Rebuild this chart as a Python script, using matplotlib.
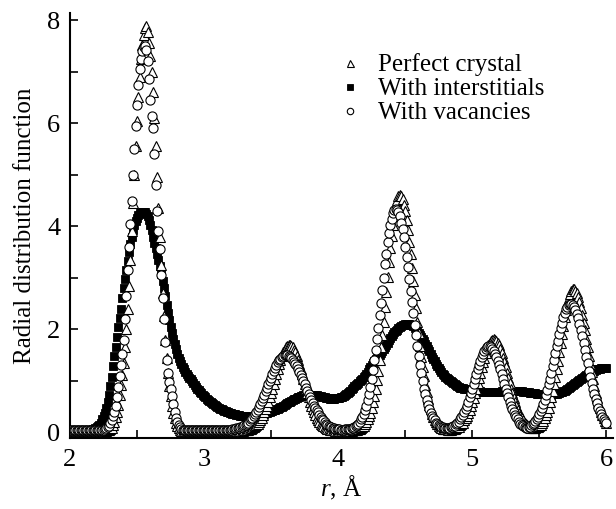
import numpy as np
import matplotlib
matplotlib.use("Agg")
import matplotlib.pyplot as plt
from matplotlib.ticker import MultipleLocator

# g(r) sampled every 0.01 Å from r = 2.00 Å; each row holds 10 samples
perfect = [
    .03, .03, .02, .03, .03, .02, .03, .03, .03, .02,
    .03, .03, .02, .03, .03, .03, .02, .03, .03, .03,
    .02, .03, .03, .03, .03, .03, .03, .03, .04, .04,
    .06, .09, .14, .21, .30, .40, .53, .72, .92, 1.12,
    1.35, 1.65, 2.00, 2.40, 2.85, 3.35, 3.90, 4.45, 5.00, 5.55,
    6.05, 6.50, 6.90, 7.25, 7.52, 7.72, 7.84, 7.88, 7.78, 7.55,
    7.30, 7.00, 6.60, 6.10, 5.55, 4.95, 4.35, 3.80, 3.25, 2.70,
    2.25, 1.80, 1.45, 1.15, .90, .70, .52, .38, .27, .18,
    .12, .08, .05, .03, .03, .03, .02, .03, .03, .03,
    .03, .02, .03, .03, .03, .03, .03, .02, .03, .03,
    .03, .03, .03, .02, .03, .03, .03, .03, .02, .03,
    .03, .03, .03, .03, .02, .03, .03, .03, .03, .03,
    .02, .03, .03, .03, .03, .03, .03, .03, .03, .03,
    .04, .04, .05, .05, .06, .07, .08, .10, .12, .14,
    .17, .20, .23, .28, .33, .39, .45, .52, .59, .68,
    .76, .85, .94, 1.04, 1.14, 1.23, 1.32, 1.40, 1.48, 1.55,
    1.60, 1.65, 1.68, 1.70, 1.70, 1.68, 1.65, 1.60, 1.55, 1.48,
    1.40, 1.32, 1.23, 1.14, 1.04, .94, .85, .76, .68, .59,
    .52, .45, .39, .33, .28, .23, .20, .17, .14, .12,
    .10, .08, .07, .06, .05, .05, .04, .04, .03, .03,
    .03, .03, .02, .03, .03, .03, .03, .03, .02, .03,
    .03, .04, .04, .04, .05, .06, .07, .08, .10, .13,
    .16, .20, .25, .31, .38, .47, .58, .70, .84, 1.02,
    1.20, 1.41, 1.65, 1.89, 2.15, 2.44, 2.72, 3.01, 3.30, 3.57,
    3.81, 4.03, 4.24, 4.39, 4.51, 4.59, 4.61, 4.59, 4.53, 4.42,
    4.29, 4.12, 3.92, 3.69, 3.46, 3.19, 2.94, 2.67, 2.42, 2.15,
    1.92, 1.68, 1.47, 1.27, 1.09, .92, .78, .65, .53, .45,
    .36, .30, .24, .20, .16, .13, .11, .09, .07, .06,
    .06, .06, .05, .05, .05, .06, .06, .07, .08, .10,
    .11, .14, .16, .19, .23, .27, .32, .38, .44, .51,
    .59, .67, .76, .85, .96, 1.06, 1.16, 1.26, 1.36, 1.45,
    1.54, 1.62, 1.69, 1.74, 1.78, 1.80, 1.81, 1.80, 1.78, 1.74,
    1.69, 1.62, 1.54, 1.45, 1.36, 1.26, 1.16, 1.06, .96, .85,
    .76, .67, .59, .51, .44, .38, .32, .27, .23, .19,
    .16, .14, .11, .10, .09, .09, .09, .09, .10, .11,
    .13, .15, .18, .22, .27, .33, .40, .47, .58, .68,
    .80, .94, 1.08, 1.23, 1.39, 1.56, 1.73, 1.90, 2.07, 2.23,
    2.37, 2.51, 2.61, 2.69, 2.75, 2.78, 2.78, 2.75, 2.70, 2.63,
    2.53, 2.41, 2.27, 2.13, 1.98, 1.82, 1.65, 1.48, 1.32, 1.18,
    1.03, .90, .77, .66, .56, .47, .40, .33, .27, .22,
    .18,
]

interstitials = [
    .05, .05, .05, .05, .05, .05, .05, .05, .05, .05,
    .05, .05, .05, .05, .05, .05, .05, .06, .07, .08,
    .10, .12, .15, .19, .25, .31, .38, .47, .58, .72,
    .90, 1.08, 1.28, 1.48, 1.66, 1.85, 2.05, 2.22, 2.40, 2.60,
    2.80, 2.98, 3.16, 3.33, 3.50, 3.66, 3.80, 3.92, 4.02, 4.10,
    4.17, 4.22, 4.25, 4.27, 4.28, 4.28, 4.27, 4.24, 4.19, 4.12,
    4.03, 3.92, 3.80, 3.68, 3.57, 3.46, 3.35, 3.22, 3.08, 2.94,
    2.80, 2.65, 2.48, 2.32, 2.18, 2.05, 1.93, 1.82, 1.72, 1.62,
    1.53, 1.45, 1.38, 1.32, 1.27, 1.22, 1.18, 1.14, 1.10, 1.06,
    1.03, 1.00, .96, .92, .88, .85, .82, .79, .76, .73,
    .70, .68, .65, .63, .61, .59, .57, .55, .53, .51,
    .49, .48, .46, .45, .43, .42, .41, .40, .39, .38,
    .37, .36, .35, .35, .34, .33, .33, .32, .32, .31,
    .31, .31, .31, .31, .31, .31, .32, .32, .32, .33,
    .33, .34, .34, .35, .35, .36, .37, .38, .39, .40,
    .41, .42, .43, .44, .45, .46, .47, .49, .50, .52,
    .53, .55, .56, .58, .59, .61, .62, .64, .65, .66,
    .68, .69, .70, .71, .72, .72, .73, .73, .73, .73,
    .73, .73, .72, .72, .72, .71, .71, .70, .69, .68,
    .68, .67, .66, .66, .65, .65, .65, .65, .66, .66,
    .66, .67, .68, .69, .71, .73, .75, .77, .79, .81,
    .84, .86, .89, .91, .94, .96, .99, 1.01, 1.04, 1.07,
    1.10, 1.14, 1.18, 1.22, 1.26, 1.30, 1.35, 1.38, 1.42, 1.45,
    1.48, 1.51, 1.54, 1.57, 1.61, 1.65, 1.70, 1.74, 1.79, 1.83,
    1.87, 1.91, 1.94, 1.97, 1.99, 2.02, 2.04, 2.06, 2.08, 2.09,
    2.10, 2.10, 2.10, 2.10, 2.09, 2.08, 2.06, 2.03, 2.00, 1.97,
    1.93, 1.89, 1.85, 1.81, 1.77, 1.72, 1.67, 1.62, 1.57, 1.52,
    1.47, 1.42, 1.38, 1.33, 1.29, 1.25, 1.21, 1.17, 1.14, 1.11,
    1.08, 1.05, 1.03, 1.01, .99, .97, .96, .94, .92, .90,
    .88, .87, .86, .86, .85, .85, .84, .84, .83, .83,
    .82, .82, .81, .81, .80, .80, .80, .79, .79, .79,
    .79, .79, .79, .79, .79, .79, .79, .79, .79, .79,
    .79, .79, .80, .80, .80, .80, .80, .80, .81, .81,
    .81, .81, .81, .81, .81, .80, .80, .80, .79, .79,
    .78, .78, .78, .77, .77, .76, .76, .76, .75, .75,
    .75, .74, .74, .74, .73, .73, .73, .73, .73, .73,
    .74, .74, .75, .75, .76, .77, .78, .79, .80, .81,
    .82, .84, .86, .88, .90, .92, .94, .96, .98, 1.00,
    1.02, 1.04, 1.06, 1.08, 1.10, 1.12, 1.14, 1.15, 1.17, 1.18,
    1.19, 1.20, 1.21, 1.22, 1.23, 1.23, 1.24, 1.24, 1.25, 1.25,
    1.25,
]

vacancies = [
    .05, .05, .04, .05, .05, .05, .04, .05, .05, .05,
    .05, .04, .05, .05, .05, .05, .04, .05, .05, .05,
    .05, .05, .05, .05, .05, .05, .06, .08, .10, .13,
    .18, .24, .32, .40, .52, .68, .88, 1.10, 1.30, 1.52,
    1.80, 2.20, 2.65, 3.15, 3.60, 4.05, 4.50, 5.00, 5.50, 5.95,
    6.35, 6.75, 7.05, 7.25, 7.40, 7.48, 7.50, 7.42, 7.20, 6.85,
    6.45, 6.15, 5.90, 5.40, 4.80, 4.30, 3.90, 3.55, 3.05, 2.60,
    2.20, 1.75, 1.40, 1.15, .98, .84, .70, .55, .40, .28,
    .20, .14, .10, .07, .05, .05, .05, .04, .05, .05,
    .05, .05, .04, .05, .05, .05, .05, .05, .04, .05,
    .05, .05, .05, .04, .05, .05, .05, .05, .05, .04,
    .05, .05, .05, .05, .05, .04, .05, .05, .05, .05,
    .05, .06, .07, .07, .08, .08, .09, .10, .11, .12,
    .14, .15, .17, .19, .22, .25, .28, .31, .35, .40,
    .44, .49, .55, .61, .67, .73, .80, .86, .93, 1.00,
    1.06, 1.13, 1.19, 1.25, 1.30, 1.36, 1.40, 1.43, 1.46, 1.48,
    1.50, 1.50, 1.50, 1.49, 1.47, 1.44, 1.41, 1.37, 1.33, 1.28,
    1.23, 1.18, 1.11, 1.05, .99, .93, .87, .81, .75, .68,
    .63, .57, .52, .47, .43, .39, .34, .30, .26, .23,
    .20, .17, .15, .13, .11, .10, .09, .08, .07, .06,
    .06, .06, .05, .05, .05, .06, .06, .06, .07, .07,
    .08, .09, .11, .12, .14, .17, .21, .25, .30, .36,
    .44, .52, .63, .75, .88, 1.04, 1.21, 1.40, 1.59, 1.81,
    2.03, 2.28, 2.52, 2.77, 3.00, 3.26, 3.47, 3.69, 3.87, 4.03,
    4.15, 4.25, 4.31, 4.33, 4.31, 4.27, 4.19, 4.07, 3.94, 3.79,
    3.60, 3.40, 3.21, 2.98, 2.75, 2.53, 2.31, 2.08, 1.89, 1.68,
    1.48, 1.30, 1.15, .99, .85, .74, .63, .53, .46, .38,
    .32, .27, .23, .19, .16, .14, .12, .10, .10, .09,
    .09, .09, .09, .09, .10, .11, .12, .13, .16, .18,
    .21, .25, .29, .34, .39, .45, .52, .59, .68, .76,
    .85, .93, 1.03, 1.13, 1.22, 1.31, 1.39, 1.46, 1.53, 1.58,
    1.62, 1.65, 1.67, 1.67, 1.65, 1.62, 1.58, 1.53, 1.46, 1.39,
    1.31, 1.22, 1.13, 1.03, .93, .85, .76, .68, .59, .52,
    .45, .39, .34, .29, .25, .21, .17, .14, .12, .10,
    .09, .09, .10, .11, .14, .16, .19, .22, .26, .30,
    .36, .41, .48, .55, .63, .72, .82, .93, 1.03, 1.16,
    1.28, 1.40, 1.54, 1.67, 1.78, 1.91, 2.03, 2.13, 2.24, 2.32,
    2.39, 2.44, 2.48, 2.50, 2.50, 2.48, 2.44, 2.38, 2.30, 2.21,
    2.11, 1.99, 1.87, 1.74, 1.60, 1.47, 1.34, 1.20, 1.08, .96,
    .85, .74, .65, .56, .48, .42, .35, .30, .25, .22,
    .18,
]

labels = ["Perfect crystal", "With interstitials", "With vacancies"]
x_ticks = [2, 3, 4, 5, 6]
y_ticks = [0, 2, 4, 6, 8]


def r_grid(values):
    return np.round(2.0 + 0.01 * np.arange(len(values)), 2)


plt.rcParams["font.family"] = ["Liberation Serif", "DejaVu Serif"]
plt.rcParams["mathtext.fontset"] = "custom"
plt.rcParams["mathtext.rm"] = "Liberation Serif"
plt.rcParams["mathtext.it"] = "Liberation Serif:italic"

fig = plt.figure(figsize=(6.16, 5.09), dpi=100)
ax = fig.add_axes([70 / 616, 71 / 509, 543 / 616, 425 / 509])

ax.plot(r_grid(interstitials), interstitials, linestyle="none", marker="s",
        markersize=6.4, markerfacecolor="black", markeredgecolor="black",
        markeredgewidth=0.6, zorder=2, label=labels[1])
ax.plot(r_grid(perfect), perfect, linestyle="none", marker="^",
        markersize=7.2, markerfacecolor="white", markeredgecolor="black",
        markeredgewidth=0.8, zorder=3, label=labels[0])
ax.plot(r_grid(vacancies), vacancies, linestyle="none", marker="o",
        markersize=6.6, markerfacecolor="white", markeredgecolor="black",
        markeredgewidth=0.8, zorder=4, label=labels[2])

ax.set_xlim(2.0, 6.05)
ax.set_ylim(-0.11, 8.14)
ax.set_xticks(x_ticks)
ax.set_yticks(y_ticks)
ax.xaxis.set_minor_locator(MultipleLocator(0.5))
ax.yaxis.set_minor_locator(MultipleLocator(1))

for side in ("top", "right"):
    ax.spines[side].set_visible(False)
for side in ("left", "bottom"):
    ax.spines[side].set_linewidth(1.5)

ax.tick_params(which="both", direction="in", length=6, width=1.2,
               top=False, right=False)
ax.tick_params(axis="x", which="both", labelsize=19, pad=8)
ax.tick_params(axis="y", which="both", labelsize=19, pad=7)

ax.set_xlabel(r"$r$, Å", fontsize=18, labelpad=2)
ax.set_ylabel("Radial distribution function", fontsize=18, labelpad=8)

handles, hlabels = ax.get_legend_handles_labels()
order = [hlabels.index(l) for l in labels]
ax.legend([handles[i] for i in order], [hlabels[i] for i in order],
          loc="upper left", bbox_to_anchor=(0.493, 0.905), frameon=False,
          fontsize=18, markerscale=0.7, handlelength=1.0, handletextpad=0.6,
          labelspacing=0.06, borderpad=0, borderaxespad=0)

fig.savefig("out.png", dpi=100)
